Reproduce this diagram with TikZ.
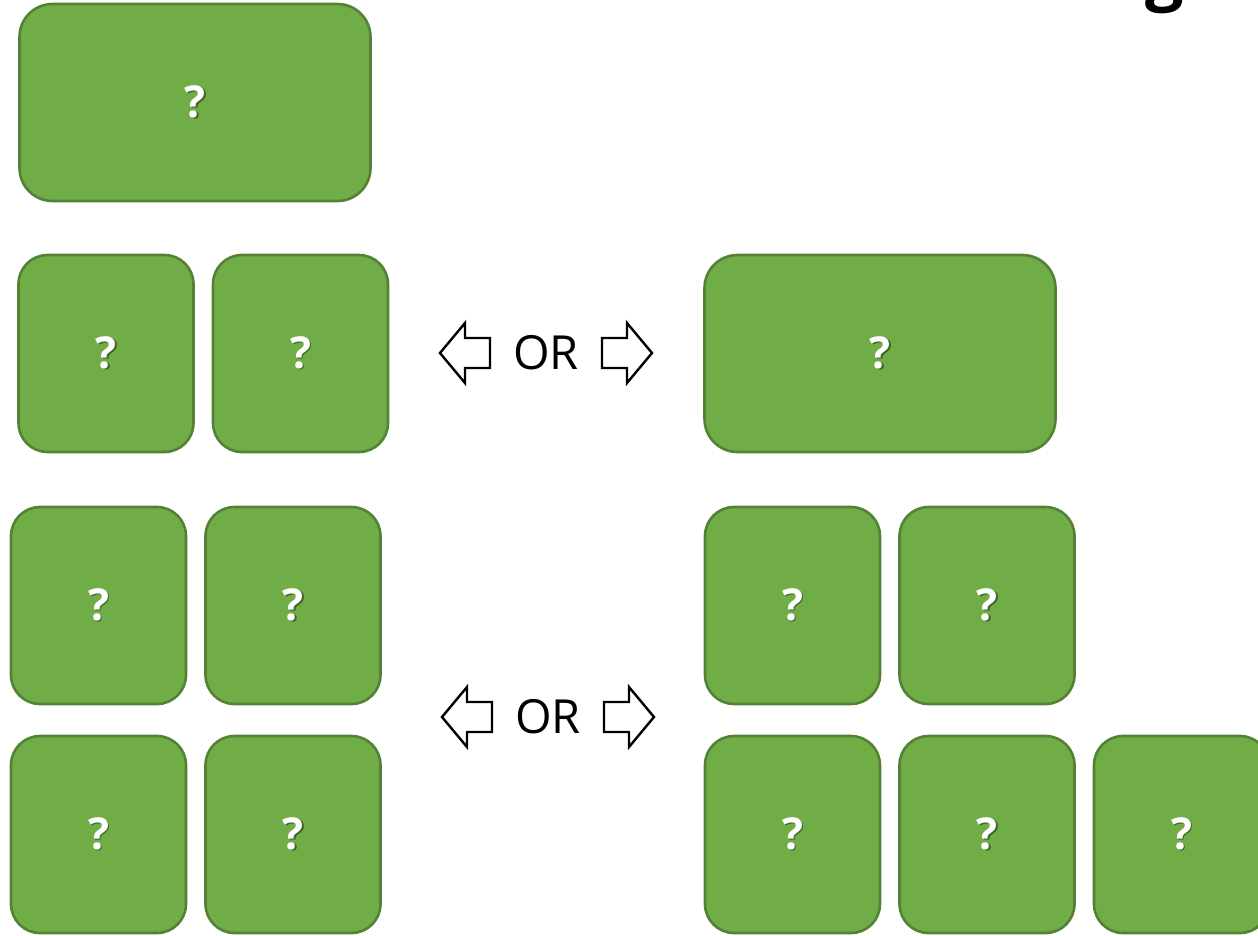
\documentclass[tikz,border=0pt]{standalone}
\usepackage{fontspec}
\setmainfont{Open Sans}
\definecolor{boxfill}{HTML}{70AD47}
\definecolor{boxline}{HTML}{548235}
\definecolor{qshadow}{HTML}{3F6428}
\newcommand\qmark{\makebox[0pt][l]{\hspace{1.6pt}\raisebox{-1.6pt}{\textcolor{qshadow}{?}}}\textcolor{white}{?}}
\begin{document}
\begin{tikzpicture}[x=1pt,y=-1pt,
  card/.style={draw=boxline, line width=2.6pt, fill=boxfill, inner sep=0pt,
    minimum width=175pt, minimum height=197pt, rounded corners=29pt,
    font=\fontsize{44}{44}\selectfont\bfseries},
  widecard/.style={card, minimum width=351pt, rounded corners=33pt},
  ortext/.style={font=\fontsize{47}{47}\selectfont, inner sep=0pt},
  outline/.style={draw=black, line width=2.4pt, fill=white, line join=miter}
]
\useasboundingbox (0,0) rectangle (1258,935);
\clip (0,0) rectangle (1258,935);
% partial title letter at top right
\node[font=\fontsize{68}{68}\selectfont\bfseries, anchor=base, inner sep=0pt] (title) at (1165,-3) {g};
% top
\node[widecard] (t) at (195,102.5) {\qmark};
% row 2
\node[card] (a1) at (106,353.5) {\qmark};
\node[card] (a2) at (300.5,353.5) {\qmark};
\node[widecard] (a3) at (880,353.5) {\qmark};
% row 3/4 left
\node[card] (b1) at (98.5,605.5) {\qmark};
\node[card] (b2) at (293,605.5) {\qmark};
\node[card] (c1) at (98.5,834.5) {\qmark};
\node[card] (c2) at (293,834.5) {\qmark};
% row 3/4 right
\node[card] (b3) at (792.5,605.5) {\qmark};
\node[card] (b4) at (987,605.5) {\qmark};
\node[card] (c3) at (792.5,834.5) {\qmark};
\node[card] (c4) at (987,834.5) {\qmark};
\node[card] (c5) at (1181.5,834.5) {\qmark};
% OR labels
\node[ortext] (or1) at (546,353) {OR};
\node[ortext] (or2) at (548,717) {OR};
% outline arrows
\coordinate (l1) at (440,353);
\coordinate (r1) at (652,353);
\coordinate (l2) at (442,717);
\coordinate (r2) at (654,717);
\foreach \p in {l1,l2}{
  \draw[outline] (\p) -- ++(25,-30) -- ++(0,15) -- ++(25,0) -- ++(0,30) -- ++(-25,0) -- ++(0,15) -- cycle;
}
\foreach \p in {r1,r2}{
  \draw[outline] (\p) -- ++(-25,-30) -- ++(0,15) -- ++(-25,0) -- ++(0,30) -- ++(25,0) -- ++(0,15) -- cycle;
}
\end{tikzpicture}
\end{document}
